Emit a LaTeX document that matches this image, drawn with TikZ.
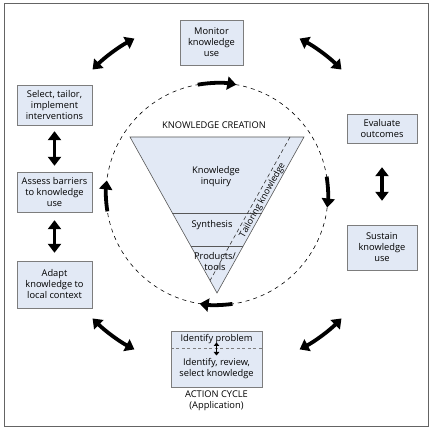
\documentclass[tikz,border=0pt]{standalone}
\usepackage{fontspec}
\setmainfont{Open Sans}
\usetikzlibrary{arrows.meta,positioning,calc,decorations.text}
\definecolor{boxblue}{RGB}{226,233,245}
\definecolor{boxline}{RGB}{125,125,125}
\definecolor{framegray}{RGB}{100,100,100}
\tikzset{
  stagebox/.style={draw=boxline, fill=boxblue, align=center, inner sep=1pt, font=\fontsize{9.3}{11}\selectfont},
  plaintext/.style={align=center, inner sep=0pt, font=\fontsize{9.3}{11}\selectfont},
  fatarrow/.style={line width=3.8pt, -{Triangle[width=13pt,length=9pt]}},
  fatboth/.style={line width=3.8pt, {Triangle[width=13pt,length=9pt]}-{Triangle[width=13pt,length=9pt]}},
}

\begin{document}
\begin{tikzpicture}[x=1pt,y=1pt]
  \useasboundingbox (0,0) rectangle (435,430);
  \draw[framegray, line width=0.8pt] (4,4) rectangle (428,427);

  % action cycle boxes
  \node[stagebox, minimum width=63pt, minimum height=45pt] (monitor) at (211.5,387.5) {Monitor\\knowledge\\use};
  \node[stagebox, minimum width=75pt, minimum height=40pt] (select) at (54.5,325) {Select, tailor,\\implement\\interventions};
  \node[stagebox, minimum width=75pt, minimum height=40pt] (assess) at (54.5,238) {Assess barriers\\to knowledge\\use};
  \node[stagebox, minimum width=75pt, minimum height=47pt] (adapt) at (54.5,145.5) {Adapt\\knowledge to\\local context};
  \node[stagebox, minimum width=70pt, minimum height=29pt] (evaluate) at (382,301.5) {Evaluate\\outcomes};
  \node[stagebox, minimum width=70pt, minimum height=45pt] (sustain) at (382,182.5) {Sustain\\knowledge\\use};
  \node[stagebox, minimum width=91pt, minimum height=56pt] (identify) at (216.5,71) {};
  \draw[boxline, dashed, dash pattern=on 3pt off 2.5pt] ($(identify.west)+(0,11)$) -- ($(identify.east)+(0,11)$);
  \node[plaintext] (problem) at (216.5,91) {Identify problem};
  \node[plaintext] (review) at (216.5,61) {Identify, review,\\select knowledge};
  \node[plaintext] (cycle) at (216.5,29) {ACTION CYCLE\\(Application)};
  \draw[line width=1.5pt, {Triangle[width=5.5pt,length=3.5pt]}-{Triangle[width=5.5pt,length=3.5pt]}] (216.5,87.5) -- (216.5,74.5);

  % knowledge creation funnel
  \coordinate (kc) at (217,236);
  \draw[dashed, dash pattern=on 4pt off 4pt, line width=0.6pt] (kc) circle[radius=111];
  \coordinate (tl) at (130,293);
  \coordinate (tr) at (304,293);
  \coordinate (tip) at (217,137);
  \draw[boxline!70!black, fill=boxblue, line width=0.6pt] (tl) -- (tr) -- (tip) -- cycle;
  \draw[boxline!70!black, line width=0.6pt] ($(tl)!0.487!(tip)$) -- ($(tr)!0.487!(tip)$);
  \draw[boxline!70!black, line width=0.6pt] ($(tl)!0.699!(tip)$) -- ($(tr)!0.699!(tip)$);
  \draw[black!80, dashed, dash pattern=on 4pt off 3pt, line width=0.6pt] ($(tr)+(-14,0)$) -- ($(tl)!0.92!(tip)$);
  \node[plaintext] (creation) at (214,305) {KNOWLEDGE CREATION};
  \node[plaintext] (inquiry) at (216,253) {Knowledge\\inquiry};
  \node[plaintext] (synthesis) at (212,205) {Synthesis};
  \node[plaintext] (products) at (215,168) {Products/\\tools};
  \coordinate (tailA) at (225.5,164.5);
  \coordinate (tailB) at (298.5,295.5);
  \path[decorate, decoration={text along path, text align=center, raise=-3pt,
    text={|\fontsize{9}{11}\selectfont|Tailoring knowledge}}] (tailA) -- (tailB);

  % arrows round the cycle
  \draw[fatarrow] ($(kc)+(100:111)$) arc[start angle=100, end angle=80, radius=111];
  \draw[fatarrow] ($(kc)+(9:111)$) arc[start angle=9, end angle=-7, radius=111];
  \draw[fatarrow] ($(kc)+(278:111)$) arc[start angle=278, end angle=261, radius=111];
  \draw[fatarrow] ($(kc)+(189:111)$) arc[start angle=189, end angle=173, radius=111];
  \draw[fatboth] ($(kc)+(45:176)$) arc[start angle=45, end angle=62, radius=176];
  \draw[fatboth] ($(kc)+(118:176)$) arc[start angle=118, end angle=135, radius=176];
  \draw[fatboth] ($(kc)+(225:176)$) arc[start angle=225, end angle=242, radius=176];
  \draw[fatboth] ($(kc)+(298:176)$) arc[start angle=298, end angle=315, radius=176];
  \draw[fatboth, shorten <=6pt, shorten >=6pt] (select) -- (assess);
  \draw[fatboth, shorten <=8pt, shorten >=8pt] (assess) -- (adapt);
  \draw[fatboth, shorten <=24pt, shorten >=24pt] (evaluate) -- (sustain);
\end{tikzpicture}
\end{document}
